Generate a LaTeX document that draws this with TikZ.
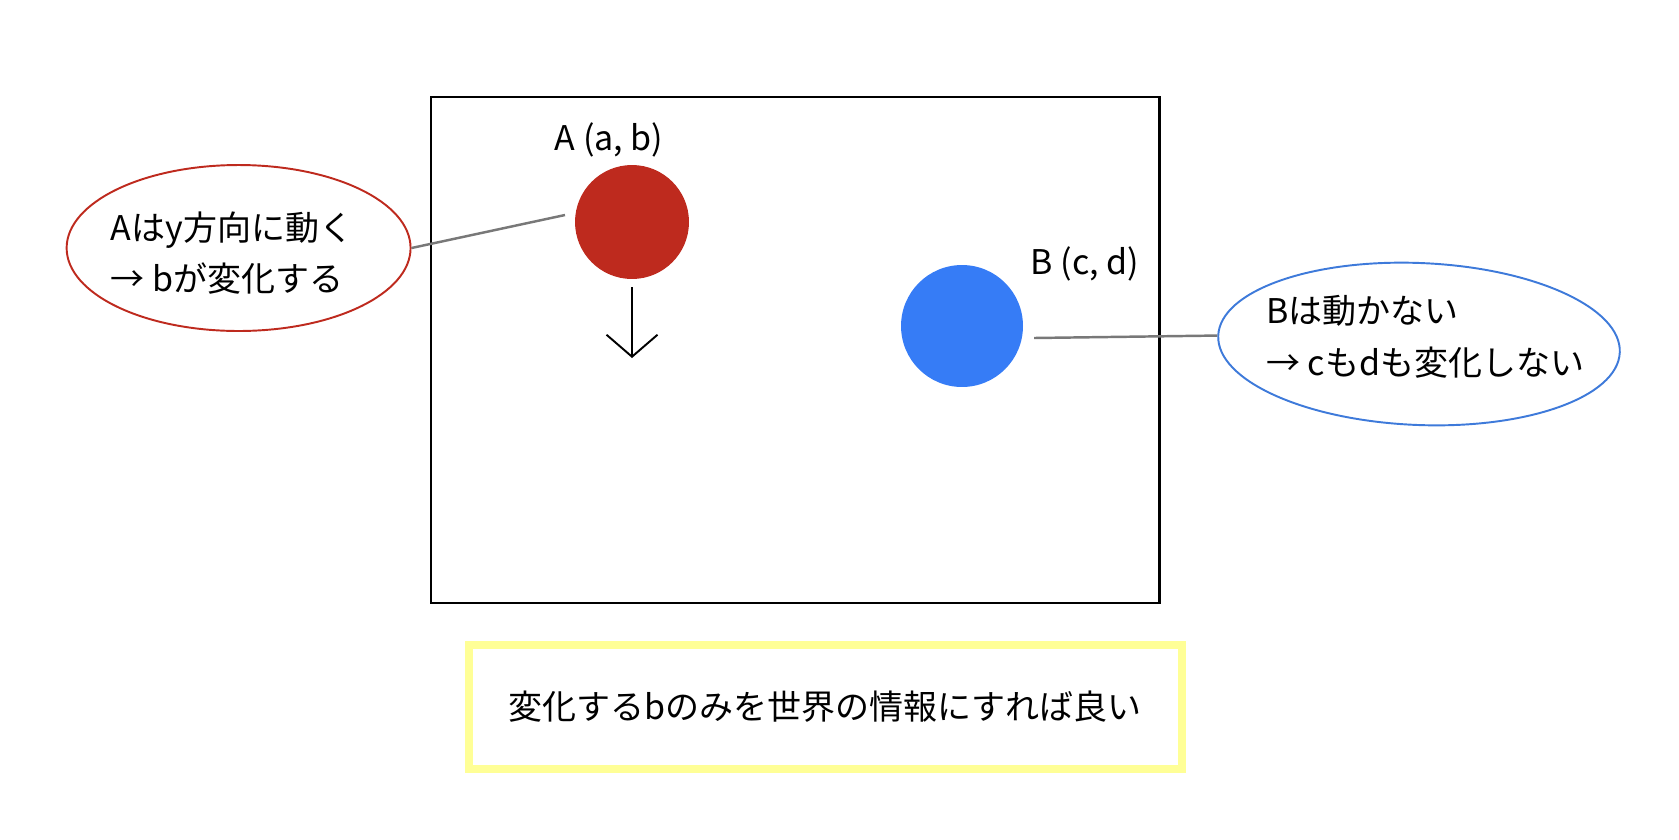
\documentclass[tikz,border=0pt]{standalone}
\usepackage{fontspec}
\setmainfont{Noto Sans CJK JP}
\usetikzlibrary{shapes.geometric,arrows.meta,positioning,calc}

\definecolor{redA}{RGB}{190,42,30}
\definecolor{blueB}{RGB}{54,124,246}
\definecolor{blueLine}{RGB}{62,122,218}
\definecolor{memoYellow}{RGB}{255,255,150}
\definecolor{linkGray}{RGB}{120,120,120}

\begin{document}
\begin{tikzpicture}[x=0.02cm, y=-0.02cm,
  every node/.style={font=\fontsize{19.35}{23}\selectfont},
  memo/.style={ellipse, line width=1.1pt, inner sep=0pt},
  dot/.style={circle, inner sep=0pt},
  link/.style={draw=linkGray, line width=1.4pt}]
\useasboundingbox (0,0) rectangle (1679,839);
% world frame
\draw[line width=1.5pt] (431,97) rectangle (1159.5,603);
% object A
\node[dot, fill=redA, minimum size=2.28cm] (dotA) at (632,222) {};
\node[anchor=base] (labelA) at (609,150) {A (a, b)};
% A moves along y
\coordinate (moveTop) at (632,287);
\coordinate (moveTip) at (632,358);
\draw[line width=1.1pt, -{Straight Barb[length=0.44cm, width=1.02cm]}] (moveTop) -- (moveTip);
% note for A
\node[memo, draw=redA, minimum width=6.88cm, minimum height=3.32cm] (memoA) at (238.6,248) {};
\node[anchor=base west] (memoA1) at (104.7,240) {Aはy方向に動く};
\node[anchor=base west] (memoA2) at (104.7,291) {→ bが変化する};
\coordinate (linkA) at (565,215);
\draw[link] (memoA.east) -- (linkA);
% object B
\node[dot, fill=blueB, minimum size=2.44cm] (dotB) at (962,326) {};
\node[anchor=base] (labelB) at (1085,274) {B (c, d)};
% note for B
\node[memo, draw=blueLine, rotate=-2.4, minimum width=8.04cm, minimum height=3.24cm] (memoB) at (1419,344) {};
\node[anchor=base west] (memoB1) at (1260,323) {Bは動かない};
\node[anchor=base west] (memoB2) at (1260,375) {→ cもdも変化しない};
\coordinate (linkB) at (1034,338);
\draw[link] (linkB) -- (memoB.west);
% conclusion
\node[draw=memoYellow, line width=0.16cm, minimum width=14.27cm, minimum height=2.49cm, inner sep=0pt] (summary) at (825.3,706.8) {変化するbのみを世界の情報にすれば良い};
\end{tikzpicture}
\end{document}
